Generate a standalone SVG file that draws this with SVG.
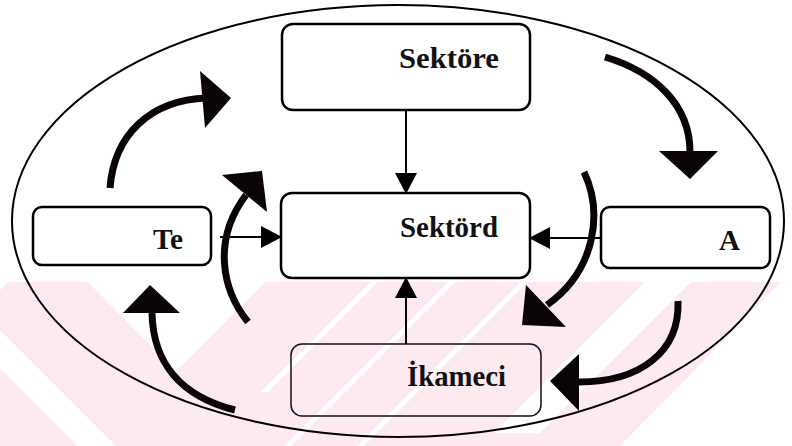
<svg xmlns="http://www.w3.org/2000/svg" width="792" height="446" viewBox="0 0 792 446">
  <style>
    .box { fill: none; stroke: #000; stroke-width: 2.5; }
    .box-thin { fill: none; stroke: #111; stroke-width: 1.5; }
    .thin { stroke: #000; stroke-width: 2; fill: none; marker-end: url(#ah); }
    .thick { stroke: #0a0406; stroke-width: 7; fill: none; }
    .head { fill: #0a0406; }
    .wm { fill: #fdeaee; }
    .wmw { fill: #ffffff; }
  </style>
  <defs>
    <marker id="ah" markerUnits="userSpaceOnUse" markerWidth="21" markerHeight="22" refX="20" refY="11" orient="auto">
      <path d="M0,0 L21,11 L0,22 Z" fill="#000"/>
    </marker>
  </defs>

  <rect width="792" height="446" fill="#fff"/>

  <g id="watermark">
    <rect class="wm" x="0" y="282" width="792" height="164"/>
    <polygon class="wmw" points="0,282 8,282 0,290"/>
    <polygon class="wmw" points="0,330 116,446 78,446 0,368"/>
    <polygon class="wmw" points="88,282 265,282 176,371"/>
    <polygon class="wmw" points="371,282 378,282 268,392 261,392"/>
    <polygon class="wmw" points="448,282 455,282 291,446 284,446"/>
    <polygon class="wmw" points="521,282 528,282 364,446 357,446"/>
    <polygon class="wmw" points="645,282 691,282 540,433 494,433"/>
    <polygon class="wmw" points="781,282 792,282 792,446 620,446"/>
  </g>

  <g id="boundary">
    <ellipse cx="398" cy="221" rx="386" ry="216" fill="none" stroke="#000" stroke-width="2"/>
  </g>

  <g font-family="Liberation Serif, DejaVu Serif, Times New Roman, serif" font-weight="bold" font-size="29" fill="#111">
  <g id="node-sektore">
    <rect class="box" x="282" y="24" width="248" height="86" rx="11"/>
    <text x="399" y="68" textLength="100" lengthAdjust="spacingAndGlyphs">Sektöre</text>
  </g>
  <g id="node-sektord">
    <rect class="box" x="281" y="193" width="249" height="85" rx="11"/>
    <text x="400" y="237" textLength="98" lengthAdjust="spacingAndGlyphs">Sektörd</text>
  </g>
  <g id="node-te">
    <rect class="box" x="33" y="207" width="178" height="58" rx="9"/>
    <text x="153" y="249" textLength="30" lengthAdjust="spacingAndGlyphs">Te</text>
  </g>
  <g id="node-a">
    <rect class="box" x="601" y="207" width="169" height="61" rx="9"/>
    <text x="719" y="250" textLength="21" lengthAdjust="spacingAndGlyphs">A</text>
  </g>
  <g id="node-ikameci">
    <rect class="box-thin" x="291" y="344" width="250" height="72" rx="11"/>
    <text x="407" y="386" textLength="99" lengthAdjust="spacingAndGlyphs">İkameci</text>
  </g>
  </g>

  <g id="connectors">
    <line class="thin" x1="406" y1="110" x2="406" y2="193"/>
    <line class="thin" x1="220" y1="237" x2="281" y2="237"/>
    <line class="thin" x1="601" y1="238" x2="530" y2="238"/>
    <line class="thin" x1="406" y1="344" x2="406" y2="278"/>

    <path class="thick" d="M110,188 C114,135 150,100 207,98"/>
    <polygon class="head" points="200,71 231,98 205,128"/>

    <path class="thick" d="M605,57 C655,72 690,105 690,152"/>
    <polygon class="head" points="659,151 718,151 690,179"/>

    <path class="thick" d="M248,322 C222,290 212,240 246,195"/>
    <polygon class="head" points="222,175 262,171 267,212"/>

    <path class="thick" d="M584,172 C603,212 596,270 547,305"/>
    <polygon class="head" points="526,285 566,327 522,325"/>

    <path class="thick" d="M235,410 C180,396 153,362 152,313"/>
    <polygon class="head" points="150,285 180,313 123,313"/>

    <path class="thick" d="M678,301 C680,352 640,382 579,382"/>
    <polygon class="head" points="550,381 579,354 579,411"/>
  </g>
</svg>
